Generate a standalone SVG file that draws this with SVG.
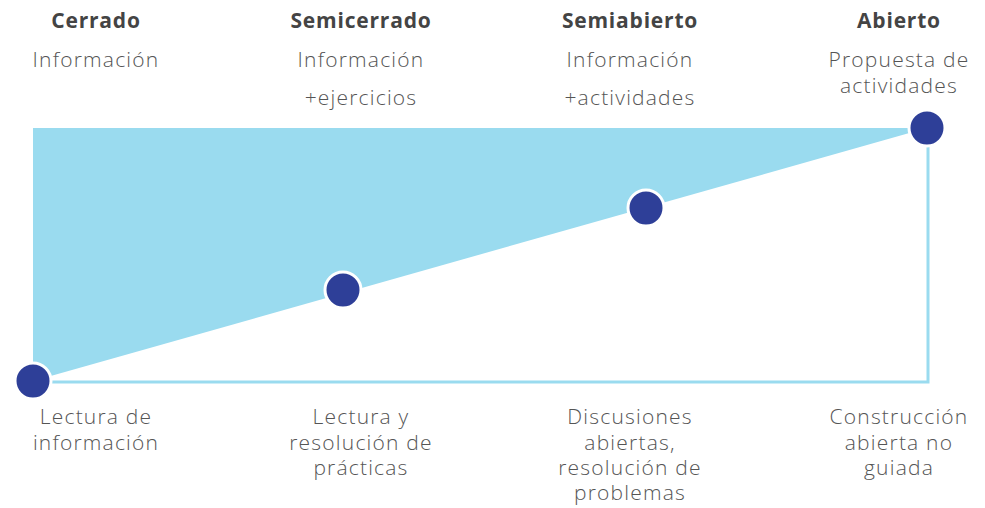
<svg xmlns="http://www.w3.org/2000/svg" width="985" height="508" viewBox="0 0 985 508">
<style>
.t{font-family:"Open Sans","Liberation Sans",sans-serif;font-size:21px;font-weight:700;fill:#444;text-anchor:middle;letter-spacing:0.8px}
.b{font-family:"Open Sans","Liberation Sans",sans-serif;font-size:21px;font-weight:300;fill:#555;text-anchor:middle;letter-spacing:1.2px}
.dot{fill:#2e3f98;stroke:#fff;stroke-width:3}
.ln{fill:none;stroke:#9adbef;stroke-width:3}
</style>
<rect width="985" height="508" fill="#fff"/>
<g id="connectors">
<polygon points="33,128 927,128 33,381" fill="#9adbef"/>
<polyline class="ln" points="33,382 928,382 928,128"/>
</g>
<g id="n1"><circle class="dot" cx="33" cy="381" r="18"/>
<text class="t" x="96" y="28">Cerrado</text>
<text class="b" x="96" y="67">Información</text>
<text class="b" x="96" y="424">Lectura de</text>
<text class="b" x="96" y="450">información</text></g>
<g id="n2"><circle class="dot" cx="343" cy="290" r="18"/>
<text class="t" x="361" y="28">Semicerrado</text>
<text class="b" x="361" y="67">Información</text>
<text class="b" x="361" y="105">+ejercicios</text>
<text class="b" x="361" y="424">Lectura y</text>
<text class="b" x="361" y="450">resolución de</text>
<text class="b" x="361" y="475">prácticas</text></g>
<g id="n3"><circle class="dot" cx="646" cy="208" r="18"/>
<text class="t" x="630" y="28">Semiabierto</text>
<text class="b" x="630" y="67">Información</text>
<text class="b" x="630" y="105">+actividades</text>
<text class="b" x="630" y="424">Discusiones</text>
<text class="b" x="630" y="450">abiertas,</text>
<text class="b" x="630" y="475">resolución de</text>
<text class="b" x="630" y="500">problemas</text></g>
<g id="n4"><circle class="dot" cx="927" cy="128" r="18"/>
<text class="t" x="899" y="28">Abierto</text>
<text class="b" x="899" y="67">Propuesta de</text>
<text class="b" x="899" y="93">actividades</text>
<text class="b" x="899" y="424">Construcción</text>
<text class="b" x="899" y="450">abierta no</text>
<text class="b" x="899" y="475">guiada</text></g>
</svg>
